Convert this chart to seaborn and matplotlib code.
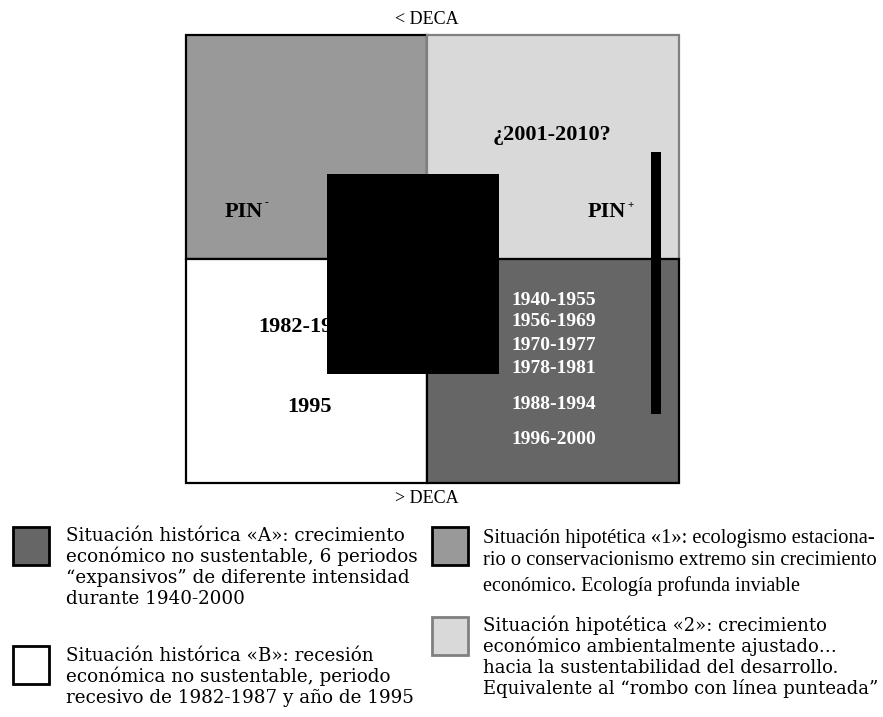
import matplotlib
matplotlib.use("Agg")
import matplotlib.pyplot as plt
from matplotlib.patches import Rectangle
import seaborn as sns

# --- datos del diagrama -------------------------------------------------
# ejes conceptuales: PIN (horizontal, - a +) y DECA (vertical, < arriba, > abajo)
quad_pin = ["-", "+", "-", "+"]
quad_deca = ["<", "<", ">", ">"]
quad_gray = [0.60, 0.85, 1.00, 0.40]
quad_edge = ["black", "#808080", "black", "black"]

periodos_A = ["1940-1955", "1956-1969", "1970-1977", "1978-1981", "1988-1994", "1996-2000"]
periodos_B = ["1982-1987", "1995"]
periodo_hipotetico = "¿2001-2010?"

leyenda_gray = [0.40, 1.00, 0.60, 0.85]
leyenda_edge = ["black", "black", "black", "#808080"]
leyenda_textos = [
    ["Situación histórica «A»: crecimiento",
     "económico no sustentable, 6 periodos",
     "“expansivos” de diferente intensidad",
     "durante 1940-2000"],
    ["Situación histórica «B»: recesión",
     "económica no sustentable, periodo",
     "recesivo de 1982-1987 y año de 1995"],
    ["Situación hipotética «1»: ecologismo estaciona-",
     "rio o conservacionismo extremo sin crecimiento",
     "económico. Ecología profunda inviable"],
    ["Situación hipotética «2»: crecimiento",
     "económico ambientalmente ajustado…",
     "hacia la sustentabilidad del desarrollo.",
     "Equivalente al “rombo con línea punteada”"],
]

# --- estilo ----------------------------------------------------------------
sns.set_theme(style="white")
plt.rcParams['font.family'] = ['DejaVu Serif']
plt.rcParams['text.color'] = 'black'
SERIF = ['Liberation Serif', 'DejaVu Serif']

PIN_MIN = -241 / 252   # el cruce no queda centrado en el cuadro

fig = plt.figure(figsize=(8.83, 7.17), dpi=100)

# capa de figura (pixeles) para etiquetas de eje y leyenda
lax = fig.add_axes([0, 0, 1, 1])
lax.set_xlim(0, 883)
lax.set_ylim(717, 0)
lax.set_axis_off()

# cuadro principal
ax = fig.add_axes([186 / 883, 1 - 483 / 717, 493 / 883, 448 / 717])
ax.set_xlim(PIN_MIN, 1)
ax.set_ylim(1, -1)
ax.set_axis_off()

for i, (pin, deca, g, ec) in enumerate(zip(quad_pin, quad_deca, quad_gray, quad_edge)):
    x0 = PIN_MIN if pin == "-" else 0
    w = -PIN_MIN if pin == "-" else 1
    y0 = -1 if deca == "<" else 0
    ax.add_patch(Rectangle((x0, y0), w, 1, facecolor=str(g), edgecolor=ec,
                           lw=1.6, clip_on=False, zorder=1 + i * 0.01))

# bloques negros
ax.add_patch(Rectangle((-0.397, -0.379), 0.683, 0.892, color="black", lw=0, zorder=5))
ax.add_patch(Rectangle((0.889, -0.478), 0.040, 1.170, color="black", lw=0, zorder=5))

# etiquetas dentro del cuadro
bold = dict(family=SERIF, fontweight="bold")
ax.text(0.498, -0.531, periodo_hipotetico, ha="center", va="baseline", fontsize=16, **bold)
ax.text(-0.651, -0.189, "PIN", ha="right", va="baseline", fontsize=16, **bold)
ax.text(-0.645, -0.250, "-", ha="left", va="center", fontsize=8, **bold)
ax.text(0.790, -0.189, "PIN", ha="right", va="baseline", fontsize=16, **bold)
ax.text(0.797, -0.237, "+", ha="left", va="center", fontsize=8, **bold)

ax.text(-0.671, 0.325, periodos_B[0], ha="left", va="baseline", fontsize=16, zorder=3, **bold)
ax.text(-0.468, 0.683, periodos_B[1], ha="center", va="baseline", fontsize=16, zorder=3, **bold)

base_A = [0.204, 0.301, 0.405, 0.507, 0.670, 0.826]
for lab, yb in zip(periodos_A, base_A):
    ax.text(0.337, yb, lab, ha="left", va="baseline", fontsize=14, color="white", zorder=3, **bold)

# etiquetas DECA
lax.text(427, 24, "< DECA", ha="center", va="baseline", fontsize=13, family=SERIF)
lax.text(427, 503, "> DECA", ha="center", va="baseline", fontsize=13, family=SERIF)

# leyenda
sw_x = [13, 13, 432, 432]
sw_y = [527, 646, 527, 617]
txt_x = [66, 66, 483, 483]
txt_base = [
    [541, 562, 583, 604],
    [661, 682, 703],
    [543, 565, 591],
    [631, 652, 673, 694],
]
txt_size = [[13.2] * 4, [13.2] * 3, [14.8, 14.8, 14.5], [13] * 4]
txt_family = [['DejaVu Serif'], ['DejaVu Serif'], SERIF, ['DejaVu Serif']]
for k in range(4):
    lax.add_patch(Rectangle((sw_x[k], sw_y[k]), 36, 38, facecolor=str(leyenda_gray[k]),
                            edgecolor=leyenda_edge[k], lw=2))
    for line, yb, fs in zip(leyenda_textos[k], txt_base[k], txt_size[k]):
        lax.text(txt_x[k], yb, line, ha="left", va="baseline",
                 fontsize=fs, family=txt_family[k])

fig.savefig("out.png", dpi=100)
